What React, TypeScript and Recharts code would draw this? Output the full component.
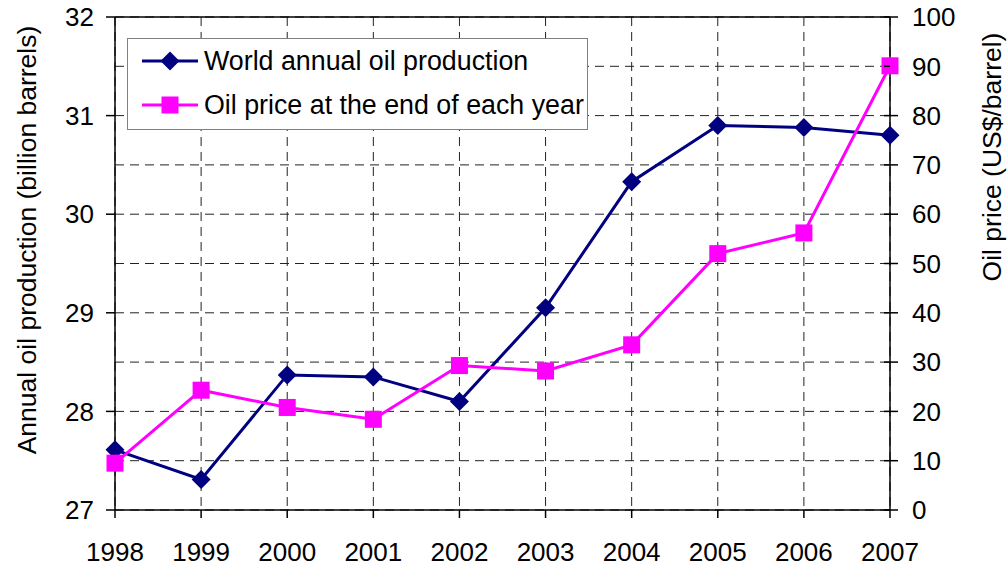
import React from "react";
import { LineChart, Line, XAxis, YAxis, CartesianGrid, Legend, ReferenceLine } from "recharts";

// Values
const years = [1998, 1999, 2000, 2001, 2002, 2003, 2004, 2005, 2006, 2007];
const production = [27.61, 27.31, 28.37, 28.35, 28.1, 29.05, 30.33, 30.9, 30.88, 30.8];
const price = [9.5, 24.3, 20.8, 18.4, 29.3, 28.2, 33.5, 52.0, 56.2, 90.1];
const productionTicks = [27, 28, 29, 30, 31, 32];
const priceTicks = [0, 10, 20, 30, 40, 50, 60, 70, 80, 90, 100];

const data = years.map((year, i) => ({ year, production: production[i], price: price[i] }));

const FONT = '"Liberation Sans", Arial, sans-serif';
const NAVY = "#000080";
const MAGENTA = "#FF00FF";
const FS = 26;

const Diamond = (props: any) => {
  const { cx, cy, index } = props;
  if (cx == null || cy == null) return null;
  const r = 9.5;
  return <polygon key={index} points={`${cx},${cy - r} ${cx + r},${cy} ${cx},${cy + r} ${cx - r},${cy}`} fill={NAVY} />;
};

const Square = (props: any) => {
  const { cx, cy, index } = props;
  if (cx == null || cy == null) return null;
  const h = 8.5;
  return <rect key={index} x={cx - h} y={cy - h} width={h * 2} height={h * 2} fill={MAGENTA} />;
};

const legendRows = [
  { label: "World annual oil production", color: NAVY, marker: "diamond" },
  { label: "Oil price at the end of each year", color: MAGENTA, marker: "square" },
];

const LegendBox = () => (
  <div style={{ position: "relative", width: 459, height: 90, border: "1px solid #808080", background: "#fff", fontFamily: FONT, fontSize: 26.8, color: "#000" }}>
    {legendRows.map((row, i) => (
      <div key={row.label} style={{ position: "absolute", left: 14, top: 7 + i * 44, height: 30, display: "flex", alignItems: "center", whiteSpace: "nowrap" }}>
        <svg width={56} height={30} style={{ marginRight: 6 }}>
          <line x1={0} y1={15} x2={56} y2={15} stroke={row.color} strokeWidth={3} />
          {row.marker === "diamond" ? (
            <polygon points="28,5.5 37.5,15 28,24.5 18.5,15" fill={row.color} />
          ) : (
            <rect x={19.5} y={6.5} width={17} height={17} fill={row.color} />
          )}
        </svg>
        <span>{row.label}</span>
      </div>
    ))}
  </div>
);

const RightTick = (props: any) => {
  const { x, y, payload } = props;
  const axisX = x - 8 - 14;
  return (
    <g>
      <line x1={axisX - 6} y1={y} x2={axisX} y2={y} stroke="#000" strokeWidth={1.5} />
      <text x={x} y={y} dy="0.355em" textAnchor="start" fill="#000" fontSize={FS} fontFamily={FONT}>
        {payload.value}
      </text>
    </g>
  );
};

export default function App() {
  return (
    <div style={{ position: "absolute", left: 0, top: 0, width: 1008, height: 566, background: "#fff" }}>
      <LineChart width={1008} height={566} data={data} margin={{ top: 17, right: 0, left: 0, bottom: 0 }}>
        <CartesianGrid yAxisId="right" stroke="#222" strokeDasharray="9 6" />
        <XAxis
          dataKey="year"
          type="number"
          domain={[1998, 2007]}
          ticks={years}
          height={56}
          tickSize={8}
          tickMargin={25}
          stroke="#000"
          strokeWidth={1.5}
          tick={{ fill: "#000", fontSize: FS, fontFamily: FONT }}
        />
        <YAxis
          yAxisId="left"
          orientation="left"
          width={115}
          domain={[27, 32]}
          ticks={productionTicks}
          tickSize={9}
          tickMargin={12}
          stroke="#000"
          strokeWidth={1.5}
          tick={{ fill: "#000", fontSize: FS, fontFamily: FONT }}
        />
        <YAxis
          yAxisId="right"
          orientation="right"
          width={118}
          domain={[0, 100]}
          ticks={priceTicks}
          tickSize={8}
          tickMargin={14}
          stroke="#000"
          strokeWidth={1.5}
          tick={<RightTick />}
        />
        <ReferenceLine yAxisId="left" y={32} stroke="#000" strokeWidth={1.5} />
        <Legend
          layout="horizontal"
          verticalAlign="middle"
          align="center"
          content={<LegendBox />}
          wrapperStyle={{ left: 127, top: 38, width: 461, height: 92 }}
        />
        <Line
          yAxisId="left"
          dataKey="production"
          name="World annual oil production"
          stroke={NAVY}
          strokeWidth={3}
          dot={<Diamond />}
          activeDot={false}
          isAnimationActive={false}
        />
        <Line
          yAxisId="right"
          dataKey="price"
          name="Oil price at the end of each year"
          stroke={MAGENTA}
          strokeWidth={3}
          dot={<Square />}
          activeDot={false}
          isAnimationActive={false}
        />
      </LineChart>
      <svg width={1008} height={566} style={{ position: "absolute", left: 0, top: 0, pointerEvents: "none" }}>
        <text transform="translate(27,240) rotate(-90)" textAnchor="middle" dominantBaseline="central" fontSize={26.5} fontFamily={FONT} fill="#000">
          Annual oil production (billion barrels)
        </text>
        <text transform="translate(992,157) rotate(-90)" textAnchor="middle" dominantBaseline="central" fontSize={26.5} fontFamily={FONT} fill="#000">
          Oil price (US$/barrel)
        </text>
      </svg>
    </div>
  );
}
